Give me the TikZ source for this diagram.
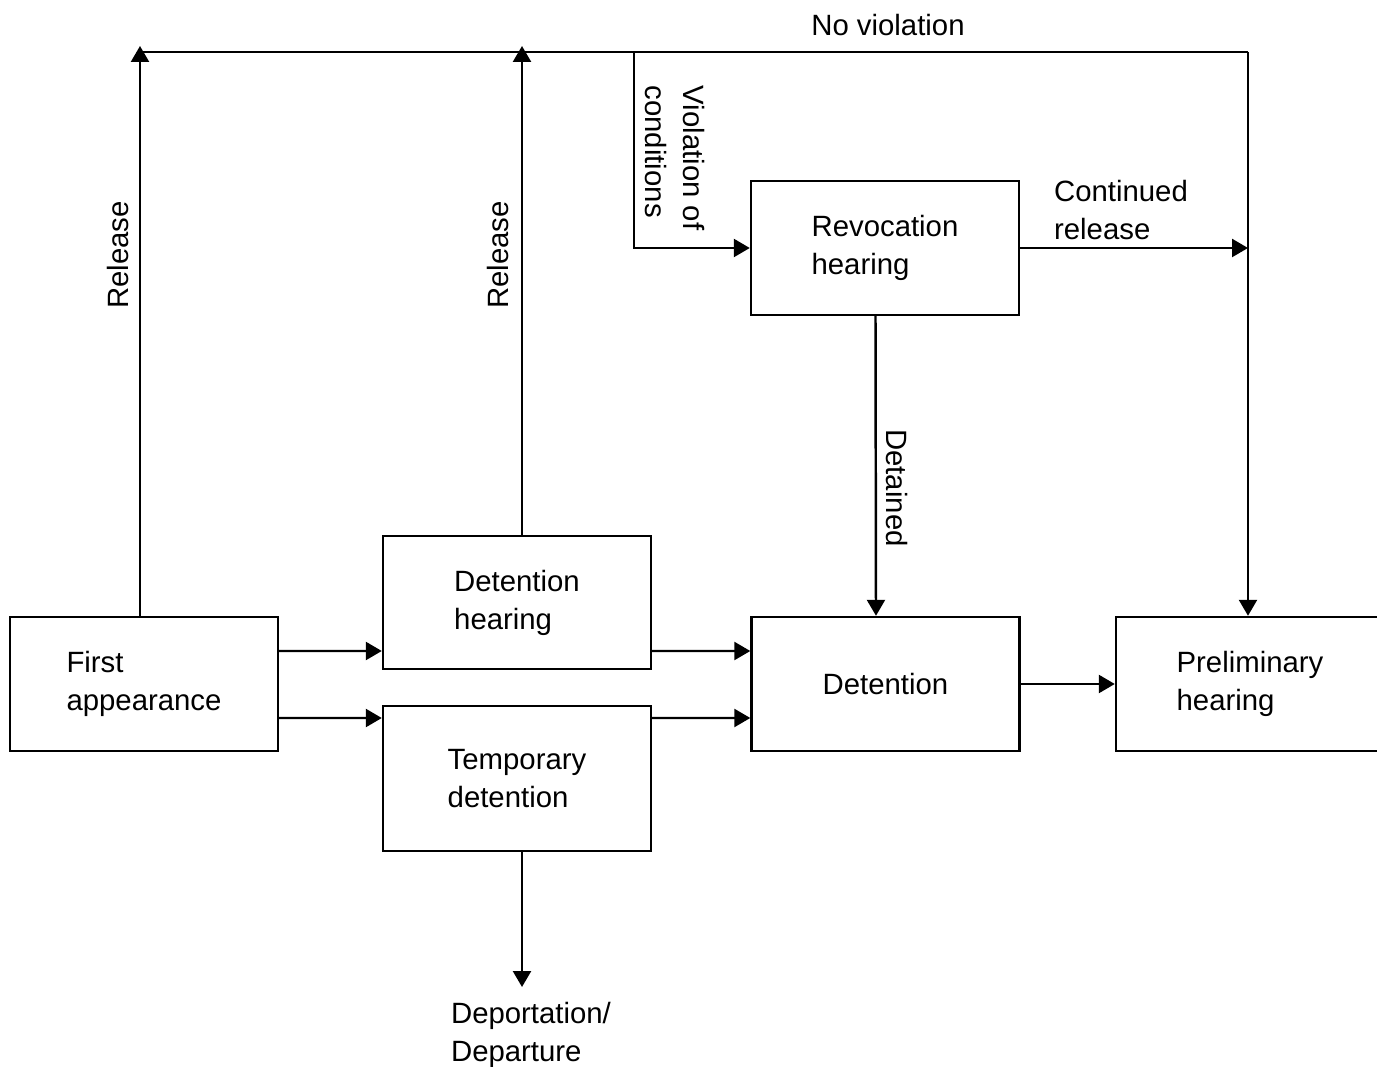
\documentclass[tikz,border=0pt]{standalone}
\usepackage{fontspec}
\setmainfont{Liberation Sans}
\usetikzlibrary{arrows.meta}
\tikzset{
  box/.style={draw,minimum width=5.36cm,minimum height=2.68cm,align=left,inner sep=0pt},
  flow/.style={-{Triangle[length=3.2mm,width=3.6mm]}},
  lbl/.style={align=left,inner sep=0pt}
}
\begin{document}
\begin{tikzpicture}[x=0.02cm,y=-0.02cm,line width=1.4pt,font=\fontsize{16.7}{21.6}\selectfont]
        \useasboundingbox (0,0) rectangle (1377,1067);
        \coordinate (topL) at (140,52);
        \coordinate (topV) at (634,52);
        \coordinate (topR) at (1248,52);
        \coordinate (relL) at (140,46);
        \coordinate (relM) at (522,46);
        \coordinate (deptip) at (522,987);
        \node[box] (first) at (144,684) {First\\appearance};
        \node[box,minimum height=2.66cm] (dethear) at (517,602.5) {Detention\\hearing};
        \node[box,minimum height=2.9cm] (temp) at (517,778.5) {Temporary\\detention};
        \node[box] (detention) at (885.5,684) {Detention};
        \node[box] (prelim) at (1250,684) {Preliminary\\hearing};
        \node[box] (revoc) at (885,248) {Revocation\\hearing};
        \draw (topL) -- (topR);
        \draw[flow] (first.north -| relL) -- (relL);
        \draw[flow] (dethear.north -| relM) -- (relM);
        \draw[flow] (topV) |- (revoc.west);
        \draw[flow] (revoc.east) -- (revoc.east -| topR);
        \draw[flow] (topR) -- (topR |- prelim.north);
        \draw[flow] ([xshift=-0.19cm]revoc.south) -- ([xshift=-0.19cm]detention.north);
        \draw[flow] ([yshift=0.66cm]first.east) -- ([yshift=-0.97cm]dethear.west);
        \draw[flow] ([yshift=-0.68cm]first.east) -- ([yshift=1.21cm]temp.west);
        \draw[flow] ([yshift=-0.97cm]dethear.east) -- ([yshift=0.66cm]detention.west);
        \draw[flow] ([yshift=1.21cm]temp.east) -- ([yshift=-0.68cm]detention.west);
        \draw[flow] (detention.east) -- (prelim.west);
        \draw[flow] (temp.south -| relM) -- (deptip);
        \node[lbl] (noviol) at (888,25) {No violation};
        \node[lbl,rotate=90] (release1) at (118,255) {Release};
        \node[lbl,rotate=90] (release2) at (498,255) {Release};
        \node[lbl,rotate=-90] (viol) at (675,158) {Violation of\\conditions};
        \node[lbl,rotate=-90] (detained) at (897,488) {Detained};
        \node[lbl] (contrel) at (1121,210) {Continued\\release};
        \node[lbl] (depart) at (531,1035) {Deportation/\\Departure};
    \end{tikzpicture}
\end{document}
